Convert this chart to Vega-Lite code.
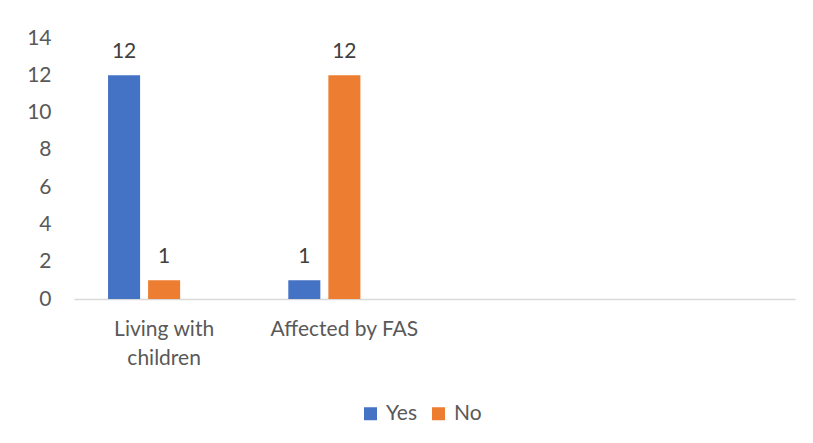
{
  "$schema": "https://vega.github.io/schema/vega-lite/v6.json",
  "autosize": {"type": "none"},
  "padding": {"left": 74, "top": 38, "right": 18, "bottom": 144},
  "width": 721,
  "height": 261,
  "background": "white",
  "config": {
    "view": {"stroke": null},
    "font": "Lato",
    "axis": {"labelFont": "Lato", "labelFontSize": 21, "labelColor": "#595959", "grid": false, "ticks": false, "title": null},
    "legend": {"labelFont": "Lato", "labelFontSize": 21, "labelColor": "#595959"}
  },
  "data": {
    "values": [
      {"category": "Living with children", "answer": "Yes", "count": 12},
      {"category": "Living with children", "answer": "No", "count": 1},
      {"category": "Affected by FAS", "answer": "Yes", "count": 1},
      {"category": "Affected by FAS", "answer": "No", "count": 12}
    ]
  },
  "encoding": {
    "x": {
      "field": "category",
      "type": "nominal",
      "sort": null,
      "scale": {"domain": ["Living with children", "Affected by FAS", "c3", "c4"], "paddingInner": 0, "paddingOuter": 0},
      "axis": {
        "labelAngle": 0,
        "domain": true,
        "domainColor": "#d9d9d9",
        "domainWidth": 1.5,
        "labelPadding": 19,
        "labelLineHeight": 29,
        "labelBaseline": "top",
        "labelExpr": "datum.value == 'Living with children' ? ['Living with', 'children'] : (datum.value == 'Affected by FAS' ? 'Affected by FAS' : '')"
      }
    },
    "xOffset": {
      "field": "answer",
      "type": "nominal",
      "scale": {"domain": ["Yes", "No", "blank"], "paddingInner": 0.2, "paddingOuter": 0.85}
    },
    "y": {
      "field": "count",
      "type": "quantitative",
      "scale": {"domain": [0, 14], "nice": false},
      "axis": {"values": [0, 2, 4, 6, 8, 10, 12, 14], "domain": false, "labelPadding": 23}
    }
  },
  "layer": [
    {
      "mark": {"type": "bar"},
      "encoding": {
        "color": {
          "field": "answer",
          "type": "nominal",
          "scale": {"domain": ["Yes", "No"], "range": ["#4472C4", "#ED7D31"]},
          "legend": {
            "title": null,
            "orient": "none",
            "direction": "horizontal",
            "legendX": 286,
            "legendY": 365,
            "symbolType": "square",
            "symbolSize": 169,
            "symbolStrokeWidth": 0,
            "labelOffset": 5,
            "columnPadding": 11,
            "padding": 0
          }
        }
      }
    },
    {
      "mark": {"type": "text", "baseline": "alphabetic", "dy": -17, "fontSize": 21, "color": "#404040", "font": "Lato"},
      "encoding": {"text": {"field": "count", "type": "quantitative"}}
    }
  ]
}
